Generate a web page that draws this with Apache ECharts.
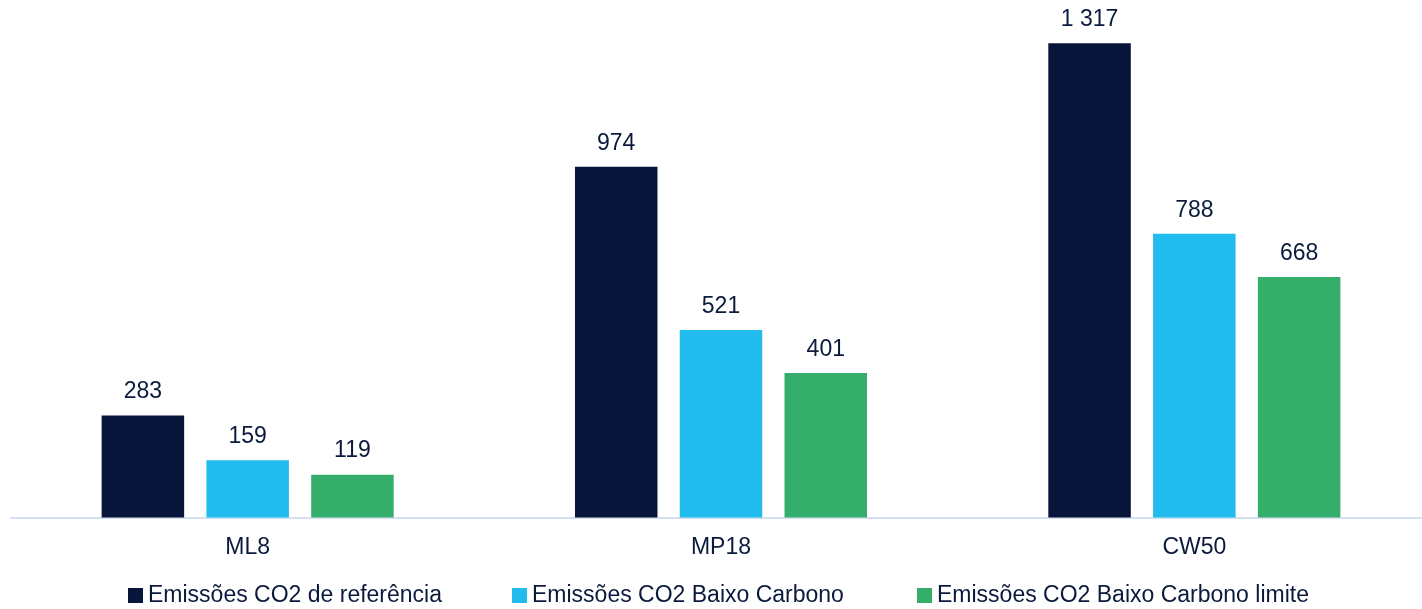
<!DOCTYPE html>
<html>
<head>
<meta charset="utf-8">
<script src="https://cdn.jsdelivr.net/npm/echarts@6/dist/echarts.min.js"></script>
<style>
html,body{margin:0;padding:0;background:#fff;}
#chart{width:1422px;height:609px;}
</style>
</head>
<body>
<div id="chart"></div>
<script>
var categories = ['ML8', 'MP18', 'CW50'];
var seriesNames = ['Emissões CO2 de referência', 'Emissões CO2 Baixo Carbono', 'Emissões CO2 Baixo Carbono limite'];
var referencia = [283, 974, 1317];
var baixoCarbono = [159, 521, 788];
var baixoCarbonoLimite = [119, 401, 668];

var colors = ['#08153A', '#22BBEE', '#36AE6B'];
var textColor = '#0B1A3C';
var FONT = '"Liberation Sans", Arial, sans-serif';

function fmt(v) {
  return String(v).replace(/\B(?=(\d{3})+(?!\d))/g, ' ');
}

var dataSets = [referencia, baixoCarbono, baixoCarbonoLimite];
var legendLefts = [128, 512, 917];

var series = dataSets.map(function (d, i) {
  return {
    name: seriesNames[i],
    type: 'bar',
    data: d,
    barWidth: 82.5,
    barGap: '27%',
    itemStyle: { color: colors[i] },
    label: {
      show: true,
      position: 'top',
      distance: 12,
      color: textColor,
      fontFamily: FONT,
      fontSize: 23,
      formatter: function (p) { return fmt(p.value); }
    }
  };
});

var legends = seriesNames.map(function (n, i) {
  return {
    show: true,
    data: [n],
    left: legendLefts[i],
    top: 584,
    orient: 'horizontal',
    itemWidth: 15,
    itemHeight: 15,
    icon: 'rect',
    padding: 0,
    textStyle: { color: textColor, fontFamily: FONT, fontSize: 23 }
  };
});

var chart = echarts.init(document.getElementById('chart'), null, { renderer: 'canvas' });
chart.setOption({
  animation: false,
  backgroundColor: '#ffffff',
  legend: legends,
  grid: {
    left: 11,
    width: 1420,
    top: 13.4,
    height: 504.1,
    outerBoundsMode: 'none',
    containLabel: false
  },
  xAxis: {
    type: 'category',
    data: categories,
    axisLine: { show: true, lineStyle: { color: '#D5DFF3', width: 2 } },
    axisTick: { show: false },
    axisLabel: { color: textColor, fontFamily: FONT, fontSize: 23, margin: 19 },
    splitLine: { show: false }
  },
  yAxis: {
    type: 'value',
    min: 0,
    max: 1400,
    show: false,
    splitLine: { show: false }
  },
  series: series
});
</script>
</body>
</html>
